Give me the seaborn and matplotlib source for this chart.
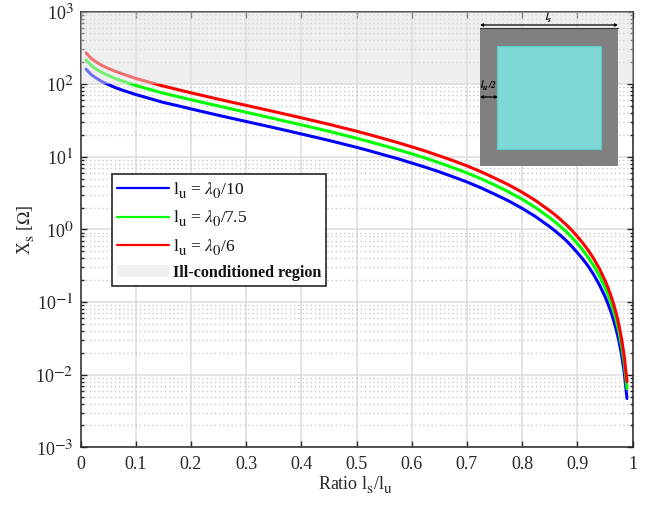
import numpy as np
import pandas as pd
import matplotlib
matplotlib.use("Agg")
import matplotlib.pyplot as plt
from matplotlib import _mathtext
from matplotlib.lines import Line2D
from matplotlib.patches import Patch, Rectangle
from matplotlib.ticker import FixedLocator, NullFormatter
import seaborn as sns

ratio = [0.01, 0.02, 0.03, 0.04, 0.05, 0.0625, 0.075, 0.1, 0.125, 0.15, 0.175, 0.2, 0.25, 0.3, 0.35, 0.4, 0.45, 0.5,
         0.525, 0.55, 0.575, 0.6, 0.625, 0.65, 0.675, 0.7, 0.725, 0.75, 0.775, 0.8, 0.825, 0.85, 0.86, 0.87, 0.88,
         0.89, 0.9, 0.91, 0.92, 0.93, 0.94, 0.95, 0.955, 0.96, 0.965, 0.97, 0.975, 0.98, 0.985, 0.99]
x_red = [269, 224, 198, 179, 165, 150.5, 139, 120, 106, 94, 84.5, 76, 62, 51, 42, 34.4, 28, 22.5,
         20, 17.7, 15.65, 13.7, 11.96, 10.3, 8.84, 7.5, 6.25, 5.1, 4.13, 3.25, 2.48, 1.81, 1.58, 1.36, 1.16,
         0.972, 0.80, 0.649, 0.513, 0.393, 0.288, 0.200, 0.162, 0.128, 0.098, 0.072, 0.050, 0.032, 0.018, 0.008]
x_green = [215, 179, 158, 143, 132, 120, 111, 96, 84.7, 75, 67.6, 61, 50, 41, 33.6, 27.5, 22.4, 18,
           16, 14.2, 12.5, 11, 9.57, 8.25, 7.07, 6, 5, 4.1, 3.3, 2.6, 1.98, 1.45, 1.26, 1.09, 0.93,
           0.778, 0.64, 0.519, 0.41, 0.314, 0.23, 0.16, 0.13, 0.102, 0.078, 0.058, 0.04, 0.0256, 0.0144, 0.0064]
x_blue = [161, 134, 119, 107, 99, 90, 83, 72, 63.5, 56, 50.7, 45.6, 37.2, 30.6, 25.2, 20.6, 16.8, 13.5,
          12, 10.6, 9.4, 8.2, 7.18, 6.2, 5.3, 4.5, 3.75, 3.06, 2.48, 1.95, 1.49, 1.09, 0.95, 0.82, 0.70,
          0.583, 0.48, 0.389, 0.31, 0.236, 0.173, 0.12, 0.097, 0.077, 0.059, 0.043, 0.03, 0.0192, 0.0108, 0.0047]
series_labels = [r"$\mathrm{l_u}$ = $\lambda_0$/10", r"$\mathrm{l_u}$ = $\lambda_0$/7.5", r"$\mathrm{l_u}$ = $\lambda_0$/6"]
series_colors = ["#0000ff", "#00ff00", "#ff0000"]
x_ticks = [0, 0.1, 0.2, 0.3, 0.4, 0.5, 0.6, 0.7, 0.8, 0.9, 1]
x_tick_labels = ["0", "0.1", "0.2", "0.3", "0.4", "0.5", "0.6", "0.7", "0.8", "0.9", "1"]
y_decades = [1e-3, 1e-2, 1e-1, 1e0, 1e1, 1e2, 1e3]
y_tick_labels = [r"10$^{-3}$", r"10$^{-2}$", r"10$^{-1}$", r"10$^{0}$", r"10$^{1}$", r"10$^{2}$", r"10$^{3}$"]
region_label = "Ill-conditioned region"

sns.set_style("white")
plt.rcParams["font.family"] = ["Liberation Serif", "DejaVu Serif"]
plt.rcParams["mathtext.fontset"] = "stix"
_mathtext.SHRINK_FACTOR = 0.85
_mathtext.STIXFontConstants.sub1 = 0.55
_mathtext.STIXFontConstants.sub2 = 0.55
W, H = 646, 505
INK = "#262626"

df = pd.concat([
    pd.DataFrame({"ratio": ratio, "xs": v, "series": lab})
    for v, lab in zip([x_blue, x_green, x_red], series_labels)
])

fig = plt.figure(figsize=(W / 100, H / 100), dpi=100)
ax = fig.add_axes([80.5 / W, 1 - 447.3 / H, 552 / W, 435.8 / H])
sns.lineplot(data=df, x="ratio", y="xs", hue="series", palette=series_colors,
             hue_order=series_labels, lw=2.2, legend=False, ax=ax, zorder=2, estimator=None, sort=False)
ax.set_yscale("log")
ax.set_xlim(0, 1)
ax.set_ylim(1e-3, 1e3)
ax.set_xlabel("")
ax.set_ylabel("")
ax.set_xticks(x_ticks)
ax.set_xticklabels(x_tick_labels)
ax.yaxis.set_major_locator(FixedLocator(y_decades))
ax.set_yticklabels(y_tick_labels)
minor = [m * d for d in y_decades[:-1] for m in range(2, 10)]
ax.yaxis.set_minor_locator(FixedLocator(minor))
ax.yaxis.set_minor_formatter(NullFormatter())
ax.set_axisbelow(True)
ax.grid(True, which="major", color="#dcdcdc", lw=1.1, ls="-")
ax.grid(True, which="minor", axis="y", color="#cacaca", lw=1.0, ls=(0, (1, 2)))
ax.tick_params(which="major", direction="in", length=4, width=1.0, color=INK, top=True, right=True,
               bottom=True, left=True, labelsize=13, labelcolor=INK)
ax.tick_params(axis="x", which="major", pad=6)
ax.tick_params(axis="y", which="major", pad=5)
ax.tick_params(which="minor", direction="in", length=2, width=1.0, color=INK, left=True, right=True)
for s in ax.spines.values():
    s.set_visible(True)
    s.set_color(INK)
    s.set_linewidth(1.1)

ax.axhspan(1e2, 1e3, facecolor="#e1e1e1", alpha=0.5, edgecolor="none", zorder=3)

fig.text(26 / W, 1 - 230 / H, r"X$_{\mathrm{s}}$ [$\Omega$]", rotation=90, ha="center", va="center", fontsize=13, color=INK)
fig.text(356 / W, 1 - 485 / H, r"Ratio l$_{\mathrm{s}}$/l$_{\mathrm{u}}$", ha="center", va="center", fontsize=13, color=INK)

handles = [Line2D([], [], color=c, lw=1.6) for c in series_colors]
handles.append(Patch(facecolor="#f0f0f0", edgecolor="none"))
leg = fig.legend(handles, series_labels + [region_label], loc="upper left",
                 bbox_to_anchor=(111.5 / W, 1 - 174 / H), bbox_transform=fig.transFigure,
                 fancybox=False, framealpha=1, edgecolor=INK, borderaxespad=0, borderpad=0.3,
                 fontsize=12.5, handlelength=3.0, handletextpad=0.23, labelspacing=0.41)
leg.get_frame().set_linewidth(1.2)
leg.set_zorder(5)
for t in leg.get_texts():
    t.set_color("#111111")
leg.get_texts()[-1].set_fontweight("bold")
leg.get_texts()[-1].set_fontsize(11.6)

inset = fig.add_axes([0, 0, 1, 1], facecolor="none", zorder=6)
inset.set_xlim(0, W)
inset.set_ylim(H, 0)
inset.axis("off")
inset.add_patch(Rectangle((480, 28), 138, 138, facecolor="#808080", edgecolor="none"))
inset.add_patch(Rectangle((497, 45.7), 103.5, 103.5, facecolor="#7fd8d8", edgecolor="#5fcbc8", lw=0.9))
inset.plot([480, 618], [28, 28], color="#333333", lw=0.8)
arrow = dict(arrowstyle="<|-|>", color="black", lw=0.9, mutation_scale=4, shrinkA=0, shrinkB=0)
inset.annotate("", xy=(480, 25), xytext=(618, 25), arrowprops=arrow)
inset.annotate("", xy=(480, 97), xytext=(498, 97), arrowprops=arrow)
inset.text(548.5, 18, r"$\mathbfit{l_s}$", ha="center", va="center", fontsize=7, color="black")
inset.text(489, 86, r"$\mathbfit{l_u/2}$", ha="center", va="center", fontsize=7, color="black")

fig.savefig("out.png", dpi=100)
